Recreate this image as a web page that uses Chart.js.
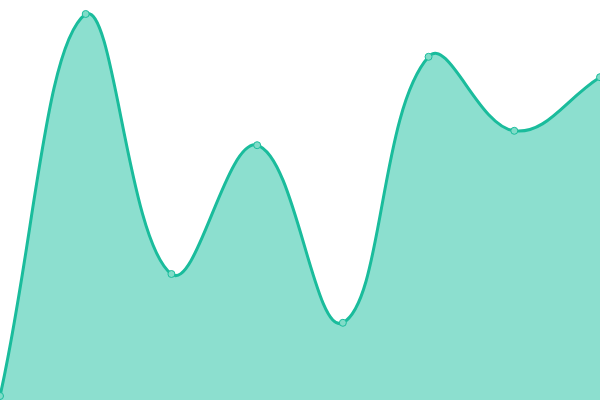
<!DOCTYPE html>
<html>
<head>
<meta charset="utf-8">
<script src="https://cdn.jsdelivr.net/npm/chart.js@4/dist/chart.umd.min.js"></script>
<style>
  html, body { margin: 0; padding: 0; background: #fff; }
  #wrap { width: 600px; height: 400px; }
</style>
</head>
<body>
<div id="wrap"><canvas id="chart"></canvas></div>
<script>
var labels = ["1", "2", "3", "4", "5", "6", "7", "8"];
var values = [1, 96.5, 31.5, 63.7, 19.3, 85.8, 67.3, 80.7];
var yMin = 0;
var yMax = 100;

var ctx = document.getElementById('chart').getContext('2d');
new Chart(ctx, {
    type: 'line',
    data: {
        labels: labels,
        datasets: [{
            data: values,
            fill: true,
            tension: 0.4,
            borderColor: '#1abc9c',
            backgroundColor: 'rgba(26, 192, 160, 0.5)',
            borderWidth: 3,
            pointRadius: 3.5,
            pointBorderWidth: 1,
            pointBackgroundColor: '#80dcc8',
            pointBorderColor: '#1abc9c'
        }]
    },
    options: {
        responsive: true,
        maintainAspectRatio: false,
        animation: false,
        layout: { padding: 0, autoPadding: false },
        plugins: { legend: { display: false }, tooltip: { enabled: false } },
        scales: {
            x: { display: false },
            y: { display: false, min: yMin, max: yMax }
        }
    }
});
</script>
</body>
</html>
